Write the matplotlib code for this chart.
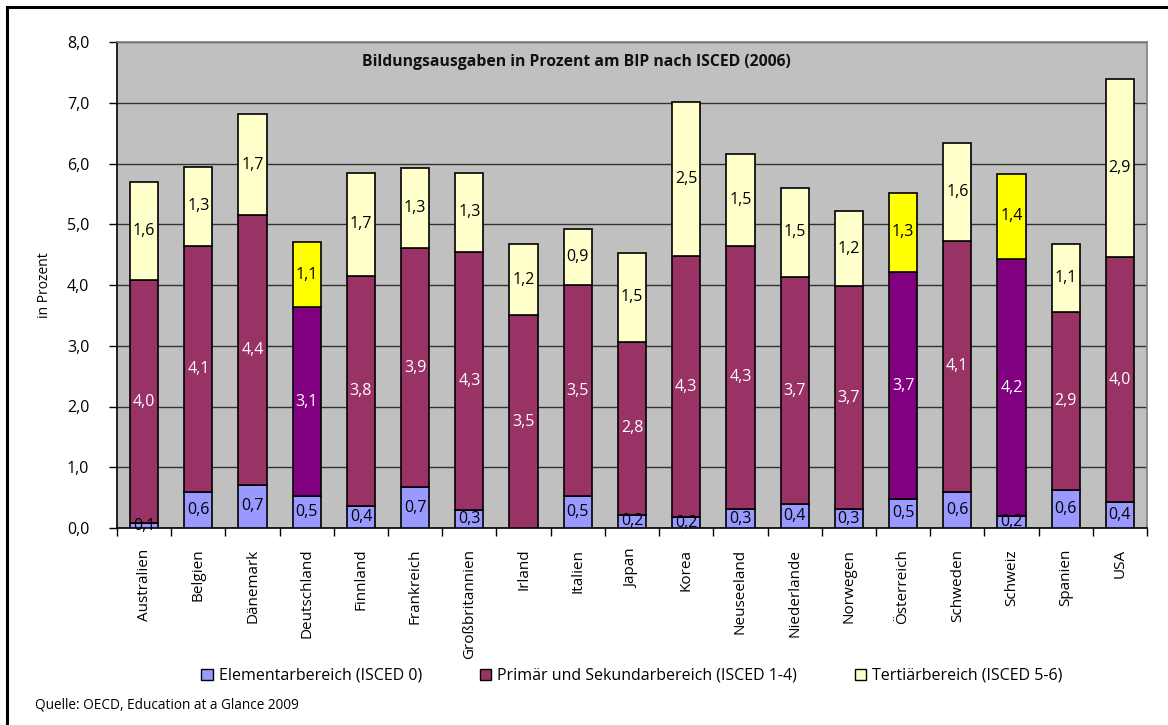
import matplotlib
matplotlib.use("Agg")
import matplotlib.pyplot as plt
from matplotlib.patches import Patch
from matplotlib.lines import Line2D
import numpy as np

plt.rcParams['font.family'] = ['Open Sans', 'DejaVu Sans']

countries = ["Australien", "Belgien", "Dänemark", "Deutschland", "Finnland", "Frankreich",
             "Großbritannien", "Irland", "Italien", "Japan", "Korea", "Neuseeland",
             "Niederlande", "Norwegen", "Österreich", "Schweden", "Schweiz", "Spanien", "USA"]
elementar = [0.08, 0.59, 0.71, 0.52, 0.37, 0.67, 0.29, 0.0, 0.52, 0.22, 0.18, 0.31,
             0.39, 0.31, 0.48, 0.59, 0.19, 0.63, 0.42]
primaer = [4.00, 4.06, 4.44, 3.11, 3.78, 3.94, 4.26, 3.50, 3.48, 2.84, 4.29, 4.34,
           3.74, 3.67, 3.73, 4.14, 4.24, 2.92, 4.04]
tertiaer = [1.62, 1.30, 1.66, 1.07, 1.70, 1.31, 1.30, 1.18, 0.92, 1.47, 2.54, 1.50,
            1.47, 1.24, 1.31, 1.61, 1.40, 1.13, 2.93]
highlight = ["Deutschland", "Österreich", "Schweiz"]

legend_labels = ["Elementarbereich (ISCED 0)", "Primär und Sekundarbereich (ISCED 1-4)",
                 "Tertiärbereich (ISCED 5-6)"]
title = "Bildungsausgaben in Prozent am BIP nach ISCED (2006)"
ylabel = "in Prozent"
source = "Quelle: OECD, Education at a Glance 2009"

c_elem = "#9999FF"
c_prim = "#993366"
c_tert = "#FFFFCC"
c_prim_h = "#800080"
c_tert_h = "#FFFF00"

W, H = 1168, 725
fig = plt.figure(figsize=(W / 100, H / 100), dpi=100)
ax = fig.add_axes([117 / W, 1 - 528 / H, (1147 - 117) / W, (528 - 42) / H])
ax.set_facecolor("#C0C0C0")

x = np.arange(len(countries))
elem = np.array(elementar)
prim = np.array(primaer)
tert = np.array(tertiaer)
prim_cols = [c_prim_h if c in highlight else c_prim for c in countries]
tert_cols = [c_tert_h if c in highlight else c_tert for c in countries]

bw = 0.52
ax.bar(x, elem, bw, color=c_elem, edgecolor="black", linewidth=1.2, zorder=3)
ax.bar(x, prim, bw, bottom=elem, color=prim_cols, edgecolor="black", linewidth=1.2, zorder=3)
ax.bar(x, tert, bw, bottom=elem + prim, color=tert_cols, edgecolor="black", linewidth=1.2, zorder=3)

def fmt(v):
    return f"{v:.1f}".replace(".", ",")

fs = 11.5
for i in range(len(countries)):
    if elem[i] > 0:
        ax.text(x[i], elem[i] / 2, fmt(elem[i]), ha="center", va="center",
                fontsize=fs, color="black", zorder=5)
    ax.text(x[i], elem[i] + prim[i] / 2, fmt(prim[i]), ha="center", va="center",
            fontsize=fs, color="white", zorder=5)
    ax.text(x[i], elem[i] + prim[i] + tert[i] / 2, fmt(tert[i]), ha="center", va="center",
            fontsize=fs, color="black", zorder=5)

ax.set_ylim(0, 8)
ax.set_xlim(-0.5, len(countries) - 0.5)
ax.set_yticks(np.arange(0, 9, 1))
ax.set_yticklabels([fmt(v) for v in np.arange(0, 9, 1)], fontsize=11.5)
ax.yaxis.grid(True, color="#333333", linewidth=1.0, zorder=0)
ax.set_axisbelow(True)

ax.set_xticks(x)
ax.set_xticklabels(countries, rotation=90, fontsize=11, va="top")
ax.set_xticks(np.arange(-0.5, len(countries), 1), minor=True)
ax.tick_params(axis="x", which="major", length=0, pad=15)
ax.tick_params(axis="x", which="minor", length=6, width=1, direction="out", color="black")
ax.tick_params(axis="y", length=6, width=1, direction="out", pad=14, color="black")

for s in ["left", "bottom"]:
    ax.spines[s].set_color("black")
    ax.spines[s].set_linewidth(1.2)
for s in ["top", "right"]:
    ax.spines[s].set_color("#808080")
    ax.spines[s].set_linewidth(1.2)

ax.text(0.4456, 0.959, title, transform=ax.transAxes, ha="center", va="center",
        fontsize=11.3, fontweight="bold", color="#111111")

fig.text(45 / W, 1 - 285 / H, ylabel, rotation=90, ha="center", va="center", fontsize=10)
fig.text(35 / W, 1 - 705 / H, source, ha="left", va="center", fontsize=9.8)

handles = [Patch(facecolor=c_elem, edgecolor="black", linewidth=1.0),
           Patch(facecolor=c_prim, edgecolor="black", linewidth=1.0),
           Patch(facecolor=c_tert, edgecolor="black", linewidth=1.0)]
fig.legend(handles, legend_labels, loc="center", bbox_to_anchor=(632 / W, 1 - 676 / H),
           ncol=3, frameon=False, fontsize=11.5, handlelength=0.7, handleheight=0.7,
           handletextpad=0.4, columnspacing=3.6)

# outer frame (left and top edges visible)
fig.add_artist(Line2D([7 / W, 7 / W], [0, 1 - 7 / H], transform=fig.transFigure,
                      color="black", linewidth=2.2))
fig.add_artist(Line2D([7 / W, 1], [1 - 7 / H, 1 - 7 / H], transform=fig.transFigure,
                      color="black", linewidth=2.2))

fig.savefig("out.png", dpi=100)
